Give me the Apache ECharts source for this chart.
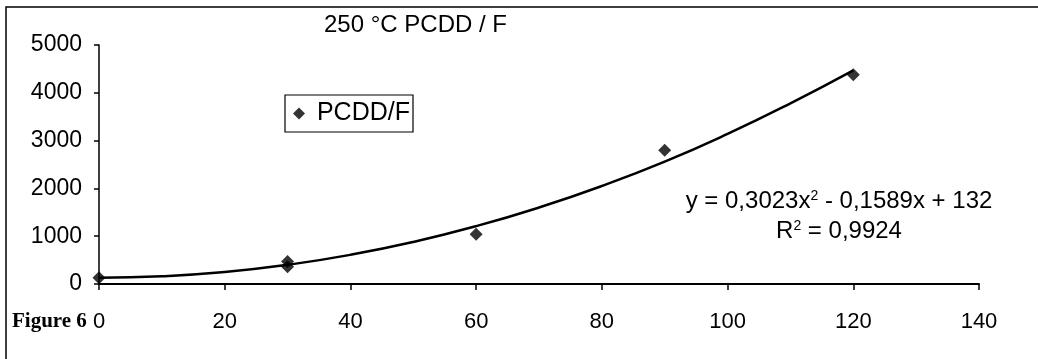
<!DOCTYPE html>
<html>
<head>
<meta charset="utf-8">
<script src="https://cdn.jsdelivr.net/npm/echarts@6/dist/echarts.min.js"></script>
<style>
  html, body { margin: 0; padding: 0; background: #fff; }
  #chart { width: 1038px; height: 359px; }
</style>
</head>
<body>
<div id="chart"></div>
<script>
let myChart = echarts.init(document.getElementById('chart'));

// measured points (time, PCDD/F)
const sampleX = [0, 30, 30, 60, 90, 120];
const sampleY = [130, 470, 360, 1040, 2800, 4380];

// trend curve
const trendX = [0, 10, 20, 30, 40, 50, 60, 70, 80, 90, 100, 110, 120];
const trendY = [132, 162, 250, 400, 610, 880, 1210, 1600, 2050, 2560, 3140, 3780, 4470];

const xTicks = [0, 20, 40, 60, 80, 100, 120, 140];
const yTicks = [0, 1000, 2000, 3000, 4000, 5000];

const titleText = '250 °C PCDD / F';
const equationText = 'y = 0,3023x{sup|2} - 0,1589x + 132';
const r2Text = 'R{sup|2} = 0,9924';
const figureText = 'Figure 6';

const font = 'Liberation Sans, Arial, sans-serif';
const supStyle = {sup: {fontSize: 14, verticalAlign: 'top', fontFamily: font, fill: '#000'}};

let option = {
    animation: false,
    textStyle: {fontFamily: font, color: '#000'},
    grid: {left: 99, right: 59, top: 45, bottom: 75},
    xAxis: {
        type: 'value',
        min: xTicks[0],
        max: xTicks[xTicks.length - 1],
        interval: 20,
        splitLine: {show: false},
        axisLine: {lineStyle: {color: '#000', width: 2}},
        axisTick: {length: 6, lineStyle: {color: '#000', width: 1.5}},
        axisLabel: {color: '#000', fontSize: 22, margin: 27, fontFamily: font}
    },
    yAxis: {
        type: 'value',
        min: yTicks[0],
        max: yTicks[yTicks.length - 1],
        interval: 1000,
        splitLine: {show: false},
        axisLine: {show: true, lineStyle: {color: '#000', width: 1.5}},
        axisTick: {show: true, length: 5, lineStyle: {color: '#000', width: 1.5}},
        axisLabel: {color: '#000', fontSize: 23, margin: 17, fontFamily: font,
                    formatter: v => String(v)}
    },
    legend: {
        data: [{name: 'PCDD/F', icon: 'diamond'}],
        formatter: name => ' ' + name,
        left: 285,
        top: 95,
        padding: [6, 3, 6, 8],
        itemWidth: 12,
        itemHeight: 12,
        borderColor: '#000',
        borderWidth: 1.2,
        textStyle: {color: '#000', fontSize: 25, fontFamily: font}
    },
    graphic: [
        {
            type: 'rect',
            shape: {x: 6, y: 7, width: 1040, height: 360},
            style: {fill: 'none', stroke: '#000', lineWidth: 1.5},
            silent: true
        },
        {
            type: 'text', left: 324, top: 13,
            style: {text: titleText, fontSize: 24, fontFamily: font, fill: '#000'}
        },
        {
            type: 'text', x: 839, y: 189,
            style: {text: equationText, fontSize: 24, fontFamily: font, fill: '#000',
                    align: 'center', verticalAlign: 'top', rich: supStyle}
        },
        {
            type: 'text', x: 839, y: 219,
            style: {text: r2Text, fontSize: 24, fontFamily: font, fill: '#000',
                    align: 'center', verticalAlign: 'top', rich: supStyle}
        },
        {
            type: 'text', left: 12, top: 311,
            style: {text: figureText, fontSize: 21, fontWeight: 'bold',
                    fontFamily: 'Liberation Serif, Times New Roman, serif', fill: '#000'}
        }
    ],
    series: [
        {
            name: 'trend',
            type: 'line',
            smooth: true,
            showSymbol: false,
            lineStyle: {color: '#000', width: 2.5},
            data: trendX.map((x, i) => [x, trendY[i]]),
            z: 2
        },
        {
            name: 'PCDD/F',
            type: 'scatter',
            symbol: 'diamond',
            symbolSize: 13,
            itemStyle: {color: '#000'},
            data: sampleX.map((x, i) => [x, sampleY[i]]),
            z: 3
        }
    ]
};

myChart.setOption(option);
</script>
</body>
</html>
